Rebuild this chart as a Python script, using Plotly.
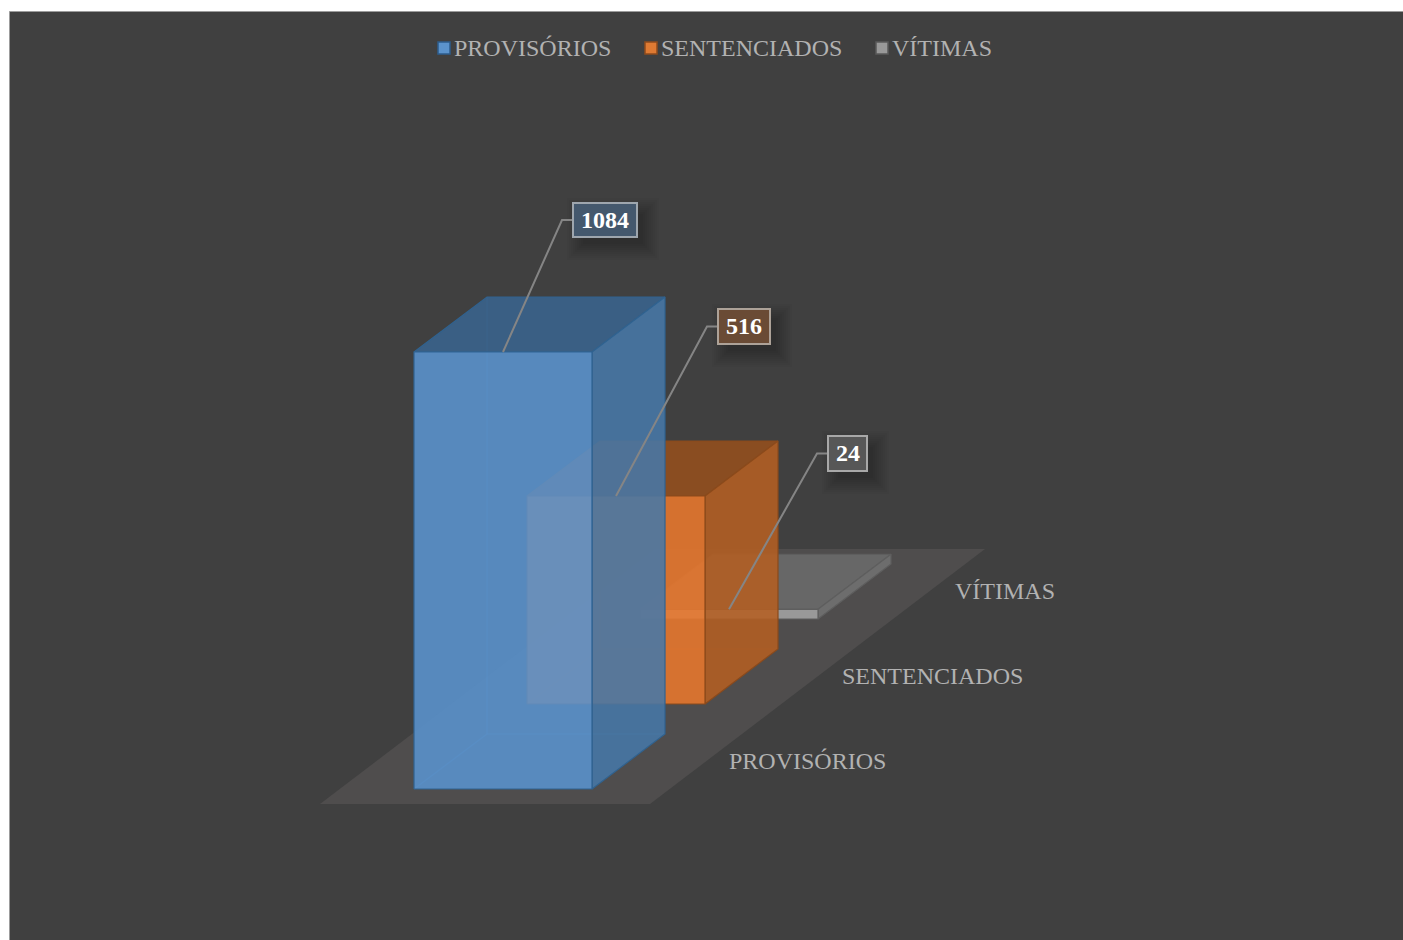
import plotly.graph_objects as go

# --- data ---
categories = ["PROVISÓRIOS", "SENTENCIADOS", "VÍTIMAS"]
values = [1084, 516, 24]

# --- styles ---
front_colors = ["rgba(90,147,206,0.88)", "rgba(233,120,44,0.88)", "rgba(160,160,160,0.92)"]
side_colors = ["rgba(71,120,167,0.88)", "rgba(180,95,34,0.88)", "rgba(112,112,112,0.92)"]
top_colors = ["rgba(57,99,141,0.88)", "rgba(148,79,28,0.88)", "rgba(105,105,105,0.92)"]
edge_colors = ["#30628F", "#8A4A1C", "#5E5E5E"]
hidden_colors = ["rgba(72,130,185,0.45)", "rgba(150,85,40,0.3)", "rgba(90,90,90,0.3)"]
label_fill = ["#44586D", "#6A4B35", "#575757"]
label_line = ["#9EA6AE", "#ADA298", "#A8A8A8"]
label_box = [(573, 637, 203, 237), (718, 770, 309, 344), (828, 867, 436, 471)]
BG = "#404040"
FLOOR = "#4F4D4D"
TEXT = "#B2B2B2"
FONT = "Liberation Serif"

# --- oblique projection (page pixels <-> chart units) ---
W, H = 1403, 940
X0, Y0 = 414, 789        # front-left foot of the first bar
BAR_W = 178
STEP_X, STEP_Y = 113, 85
DEPTH_X, DEPTH_Y = 73, 55
SCALE = 437 / 1084       # pixels per unit of value


def yv(px):
    return (Y0 - px) / SCALE


def corner(i, side, depth, v):
    return (X0 + i * STEP_X + side * BAR_W + depth * DEPTH_X,
            v + (i * STEP_Y + depth * DEPTH_Y) / SCALE)


def poly(pts, fill, line, width=1.2):
    xs = [p[0] for p in pts] + [pts[0][0]]
    ys = [p[1] for p in pts] + [pts[0][1]]
    return go.Scatter(x=xs, y=ys, mode="lines", fill="toself", fillcolor=fill,
                      line=dict(color=line, width=width), hoverinfo="skip", showlegend=False)


fig = go.Figure()

# floor
fig.add_trace(poly([(320, yv(804)), (650, yv(804)), (985, yv(549)), (655, yv(549))], FLOOR, FLOOR, 0))

# bars, back to front
for i in reversed(range(len(values))):
    v = values[i]
    # hidden edges seen through the translucent faces
    hx, hy = [], []
    for a, b in [((0, 1, 0), (1, 1, 0)), ((0, 1, 0), (0, 1, v)), ((0, 1, 0), (0, 0, 0))]:
        pa, pb = corner(i, *a), corner(i, *b)
        hx += [pa[0], pb[0], None]
        hy += [pa[1], pb[1], None]
    fig.add_trace(go.Scatter(x=hx, y=hy, mode="lines", line=dict(color=hidden_colors[i], width=1.2),
                             hoverinfo="skip", showlegend=False))
    fig.add_trace(poly([corner(i, 0, 0, v), corner(i, 1, 0, v), corner(i, 1, 1, v), corner(i, 0, 1, v)],
                       top_colors[i], edge_colors[i]))
    fig.add_trace(poly([corner(i, 1, 0, 0), corner(i, 1, 1, 0), corner(i, 1, 1, v), corner(i, 1, 0, v)],
                       side_colors[i], edge_colors[i]))
    fig.add_trace(poly([corner(i, 0, 0, 0), corner(i, 1, 0, 0), corner(i, 1, 0, v), corner(i, 0, 0, v)],
                       front_colors[i], edge_colors[i]))

annotations = []
shapes = [dict(type="rect", xref="x", yref="y", x0=9.5, x1=W + 5, y0=yv(11.5), y1=yv(H + 5),
               fillcolor=BG, line=dict(color="#9C9C9C", width=1), layer="below")]

# leader lines + value labels
for i, v in enumerate(values):
    bx0, bx1, by0, by1 = label_box[i]
    cx, cy = (bx0 + bx1) / 2, (by0 + by1) / 2
    ax, ay = corner(i, 0.5, 0, v)
    fig.add_trace(go.Scatter(x=[ax, bx0 - 11, bx0], y=[ay, yv(cy), yv(cy)], mode="lines",
                             line=dict(color="#858585", width=2), hoverinfo="skip", showlegend=False))
    for grow in [14, 12, 10, 8, 6, 4, 2, 0, -2]:
        shapes.append(dict(type="rect", xref="x", yref="y", layer="below", line=dict(width=0),
                           fillcolor="rgba(0,0,0,0.028)",
                           x0=bx0 + 8 - grow, x1=bx1 + 8 + grow,
                           y0=yv(by0 + 9 - grow), y1=yv(by1 + 9 + grow)))
    shapes.append(dict(type="rect", xref="x", yref="y", layer="above", fillcolor=label_fill[i],
                       line=dict(color=label_line[i], width=2),
                       x0=bx0, x1=bx1, y0=yv(by0), y1=yv(by1)))
    annotations.append(dict(x=cx, y=yv(cy - 0.5), xref="x", yref="y", text=f"<b>{v}</b>", showarrow=False,
                            font=dict(family=FONT, size=24, color="white")))

# category labels along the depth axis
for i, c in enumerate(categories):
    annotations.append(dict(x=727 + i * STEP_X, y=yv(761 - i * STEP_Y), xref="x", yref="y", text=c,
                            showarrow=False, xanchor="left", yanchor="middle",
                            font=dict(family=FONT, size=24, color=TEXT)))

# legend row
legend_x = [444, 651, 882]
legend_text_x = [452, 659, 890]
swatch_fill = ["#5B93CC", "#DE7A33", "#999999"]
swatch_line = ["#2C5C8C", "#8E4B1C", "#5A5A5A"]
fig.add_trace(go.Scatter(x=legend_x, y=[yv(48)] * 3, mode="markers", hoverinfo="skip", showlegend=False,
                         marker=dict(symbol="square", size=12, color=swatch_fill,
                                     line=dict(color=swatch_line, width=1.5))))
for c, x in zip(categories, legend_text_x):
    annotations.append(dict(x=x, y=yv(48), xref="x", yref="y", text=c, showarrow=False,
                            xanchor="left", yanchor="middle", font=dict(family=FONT, size=24, color=TEXT)))

fig.update_layout(
    width=W, height=H, margin=dict(l=0, r=0, t=0, b=0),
    paper_bgcolor="white", plot_bgcolor="white", showlegend=False,
    xaxis=dict(range=[0, W], visible=False, fixedrange=True),
    yaxis=dict(range=[yv(H), yv(0)], visible=False, fixedrange=True),
    shapes=shapes, annotations=annotations,
)
fig.write_html("out.html", include_plotlyjs=True,
               post_script="document.body.style.margin='0';document.body.style.overflow='hidden';",
               config={"displayModeBar": False})
